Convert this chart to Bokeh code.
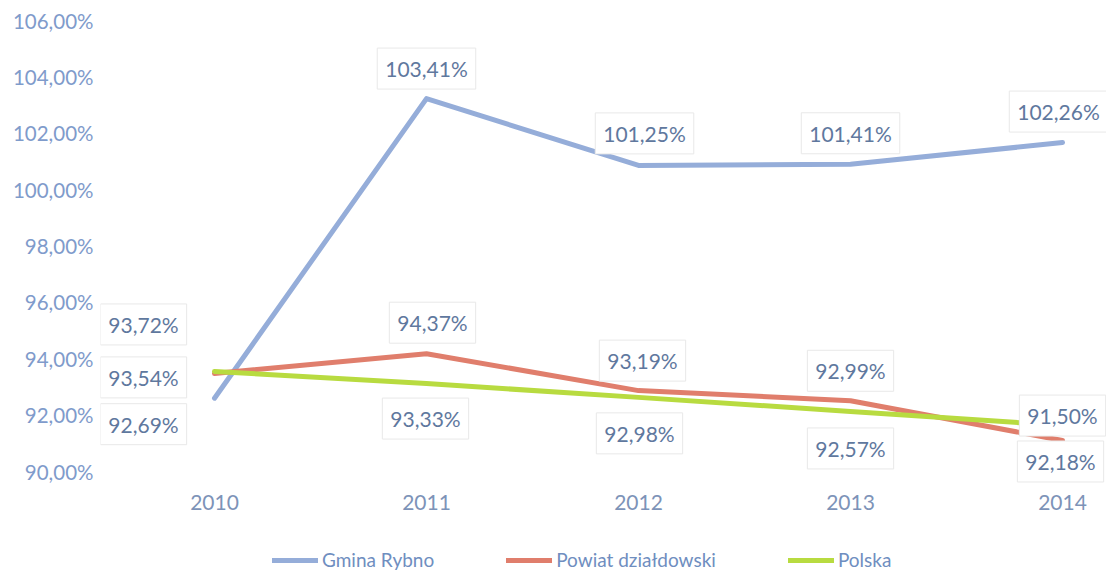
from bokeh.plotting import figure
from bokeh.models import Range1d, FixedTicker, Label, Legend, LegendItem
from bokeh.embed import file_html
from bokeh.resources import INLINE

# ---- data ----
years = [2010, 2011, 2012, 2013, 2014]
gmina_rybno = [92.60, 103.23, 100.86, 100.90, 101.67]
powiat_dzialdowski = [93.48, 94.18, 92.87, 92.51, 91.10]
polska = [93.55, 93.12, 92.63, 92.13, 91.63]
gmina_labels = ["92,69%", "103,41%", "101,25%", "101,41%", "102,26%"]
powiat_labels = ["93,54%", "94,37%", "93,19%", "92,99%", "92,18%"]
polska_labels = ["93,72%", "93,33%", "92,98%", "92,57%", "91,50%"]
y_ticks = [90, 92, 94, 96, 98, 100, 102, 104, 106]
y_tick_labels = ["90,00%", "92,00%", "94,00%", "96,00%", "98,00%",
                 "100,00%", "102,00%", "104,00%", "106,00%"]
series_names = ["Gmina Rybno", "Powiat działdowski", "Polska"]

# ---- layout / styles ----
colors = ["#95add9", "#e07e6c", "#b8db40"]
font = "Lato"
gmina_off = [(-71, -26), (0, 30), (6, 32), (0, 31), (-4, 31)]
powiat_off = [(-71, -4), (6, 31), (4, 30), (0, 30), (-2, -21)]
polska_off = [(-71, 47), (-1, -35), (1, -36), (0, -37), (0, 10)]

p = figure(width=1106, height=574, output_backend="svg", toolbar_location=None,
           x_range=Range1d(2009.4623, 2014.2075), y_range=Range1d(86.346, 106.71),
           min_border_left=100, min_border_right=0, min_border_top=0,
           min_border_bottom=0, outline_line_color=None,
           background_fill_color="white", border_fill_color="white")
p.grid.visible = False

p.yaxis.ticker = FixedTicker(ticks=y_ticks)
p.yaxis.major_label_overrides = {t: l for t, l in zip(y_ticks, y_tick_labels)}
p.yaxis.axis_line_color = None
p.yaxis.major_tick_line_color = None
p.yaxis.minor_tick_line_color = None
p.yaxis.major_tick_out = 0
p.yaxis.major_tick_in = 0
p.yaxis.minor_tick_out = 0
p.yaxis.major_label_standoff = 7
p.yaxis.major_label_text_font = font
p.yaxis.major_label_text_font_size = "20.5px"
p.yaxis.major_label_text_color = "#7f9bcb"

p.xaxis.ticker = FixedTicker(ticks=years)
p.xaxis.major_label_overrides = {y: str(y) for y in years}
p.xaxis.fixed_location = 89.22
p.xaxis.axis_line_color = None
p.xaxis.major_tick_line_color = None
p.xaxis.minor_tick_line_color = None
p.xaxis.major_tick_out = 0
p.xaxis.major_tick_in = 0
p.xaxis.minor_tick_out = 0
p.xaxis.major_label_standoff = 2
p.xaxis.major_label_text_font = font
p.xaxis.major_label_text_font_size = "21px"
p.xaxis.major_label_text_color = "#7d93b8"

renderers = []
for vals, col in zip([gmina_rybno, powiat_dzialdowski, polska], colors):
    r = p.line(years, vals, line_color=col, line_width=5, line_join="round",
               line_cap="round")
    renderers.append(r)

for vals, labs, offs in [(gmina_rybno, gmina_labels, gmina_off),
                         (powiat_dzialdowski, powiat_labels, powiat_off),
                         (polska, polska_labels, polska_off)]:
    for x, y, t, (dx, dy) in zip(years, vals, labs, offs):
        p.add_layout(Label(x=x, y=y, text=t, x_offset=dx, y_offset=dy,
                           text_align="center", text_baseline="middle",
                           text_font=font, text_font_size="21px",
                           text_color="#5f789e",
                           background_fill_color="white",
                           border_line_color="#e8e8e8", border_line_width=1,
                           padding=8))

legend = Legend(items=[LegendItem(label=n, renderers=[r])
                       for n, r in zip(series_names, renderers)],
                orientation="horizontal", location=(172, 3),
                glyph_width=46, glyph_height=20, label_standoff=4,
                spacing=72, padding=0, margin=0,
                label_text_font=font, label_text_font_size="19px",
                label_text_color="#6f8ec0", border_line_color=None,
                background_fill_alpha=0)
p.add_layout(legend, "center")

open("out.html", "w").write(file_html(p, INLINE))
